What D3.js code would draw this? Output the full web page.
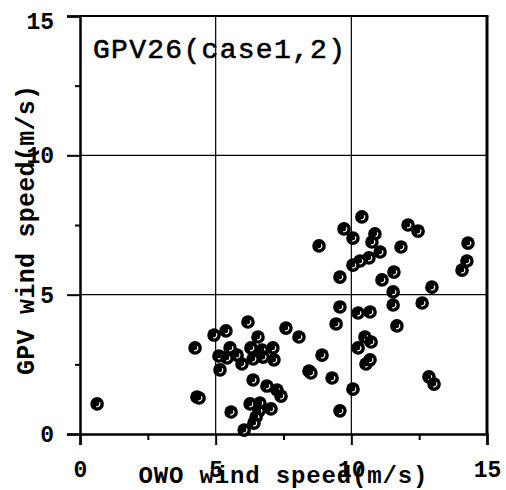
<!DOCTYPE html>
<html>
<head>
<meta charset="utf-8">
<script src="https://cdn.jsdelivr.net/npm/d3@7"></script>
<style>
  body { margin: 0; background: #fff; }
  svg { display: block; }
  text { font-family: "Liberation Mono", "DejaVu Sans Mono", monospace; fill: #000; }
</style>
</head>
<body>
<svg id="graph" width="506" height="490"></svg>
<script>
//OWO wind speed (x) of every point
let owoSpeed = [0.63, 4.31, 4.39, 4.24, 4.94, 5.38, 5.12, 5.42, 5.53, 5.79,
  5.97, 5.16, 6.19, 6.30, 6.38, 6.56, 6.71, 6.75, 7.11, 7.15,
  7.59, 8.07, 6.38, 6.89, 7.26, 7.41, 5.57, 6.27, 6.63, 7.04,
  6.60, 6.49, 6.41, 6.05, 8.44, 8.51, 8.92, 9.29, 9.44, 9.58,
  9.58, 9.58, 10.06, 10.25, 10.69, 10.25, 10.50, 10.73, 10.54, 10.69,
  8.81, 9.73, 10.06, 10.39, 10.87, 10.76, 11.06, 10.65, 10.32, 10.06,
  11.83, 12.09, 12.46, 14.30, 14.26, 14.08, 11.57, 11.13, 11.54, 12.97,
  12.61, 11.54, 11.68, 12.86, 13.05];
//GPV wind speed (y) of every point
let gpvSpeed = [1.08, 1.33, 1.29, 3.09, 3.55, 3.70, 2.80, 2.73, 3.09, 2.83,
  2.51, 2.30, 4.02, 3.09, 2.69, 3.48, 3.01, 2.76, 3.09, 2.66,
  3.80, 3.48, 1.94, 1.72, 1.58, 1.36, 0.79, 1.08, 1.11, 0.90,
  0.83, 0.61, 0.39, 0.14, 2.26, 2.19, 2.83, 2.01, 3.95, 4.56,
  5.63, 0.83, 1.61, 4.34, 4.38, 3.09, 3.48, 3.30, 2.51, 2.66,
  6.75, 7.36, 7.03, 7.79, 7.18, 6.89, 6.53, 6.32, 6.21, 6.06,
  6.71, 7.50, 7.28, 6.85, 6.21, 5.88, 5.81, 5.53, 5.10, 5.27,
  4.70, 4.63, 3.88, 2.05, 1.79];
//tick values
let majorTicks = [0, 5, 10, 15];
let minorTicks = [2.5, 7.5, 12.5];
let gridTicks = [5, 10];
//texts
let chartTitle = "GPV26(case1,2)";
let xTitle = "OWO wind speed(m/s)";
let yTitle = "GPV wind speed(m/s)";

let svg = d3.select("#graph");
let plot = { left: 80, right: 487, top: 16, bottom: 434 };

let x = d3.scaleLinear().domain([0, 15]).range([plot.left, plot.right]);
let y = d3.scaleLinear().domain([0, 15]).range([plot.bottom, plot.top]);

//grid lines at 5 and 10
svg.append("g").selectAll("line.vgrid")
  .data(gridTicks).enter().append("line")
  .attr("x1", d => x(d)).attr("x2", d => x(d))
  .attr("y1", plot.top).attr("y2", plot.bottom)
  .attr("stroke", "#000").attr("stroke-width", 1.2);
svg.append("g").selectAll("line.hgrid")
  .data(gridTicks).enter().append("line")
  .attr("x1", plot.left).attr("x2", plot.right)
  .attr("y1", d => y(d)).attr("y2", d => y(d))
  .attr("stroke", "#000").attr("stroke-width", 1.2);

//top and right frame
svg.append("line")
  .attr("x1", plot.left).attr("x2", plot.right + 1.5)
  .attr("y1", plot.top).attr("y2", plot.top)
  .attr("stroke", "#000").attr("stroke-width", 2);
svg.append("line")
  .attr("x1", plot.right).attr("x2", plot.right)
  .attr("y1", plot.top).attr("y2", plot.bottom)
  .attr("stroke", "#000").attr("stroke-width", 3);

//left axis, major and minor ticks
let yAxis = svg.append("g")
  .attr("transform", "translate(" + plot.left + ",0)")
  .call(d3.axisLeft(y).tickValues(majorTicks).tickSize(13).tickPadding(13).tickFormat(d3.format("d")));
svg.append("g")
  .attr("transform", "translate(" + plot.left + ",0)")
  .call(d3.axisLeft(y).tickValues(minorTicks).tickSize(5).tickFormat(""))
  .select(".domain").remove();

//bottom axis, major and minor ticks
let xAxis = svg.append("g")
  .attr("transform", "translate(0," + plot.bottom + ")")
  .call(d3.axisBottom(x).tickValues(majorTicks).tickSize(11).tickPadding(16).tickFormat(d3.format("d")));
svg.append("g")
  .attr("transform", "translate(0," + plot.bottom + ")")
  .call(d3.axisBottom(x).tickValues(minorTicks).tickSize(6).tickFormat(""))
  .select(".domain").remove();

//style axes
svg.selectAll(".domain").attr("stroke", "#000").attr("stroke-width", 2.5);
svg.selectAll(".tick line").attr("stroke", "#000").attr("stroke-width", 2);
svg.selectAll(".tick text")
  .attr("font-family", "Liberation Mono")
  .attr("font-size", 23).attr("font-weight", "bold").attr("fill", "#000");
yAxis.selectAll(".tick text").filter(d => d === 15).attr("dy", "0.55em");

//title inside the plot
svg.append("text")
  .attr("x", 93).attr("y", 58)
  .attr("font-size", 28)
  .attr("textLength", 252)
  .attr("stroke", "#000").attr("stroke-width", 0.6)
  .text(chartTitle);

//axis names
svg.append("text")
  .attr("x", 283).attr("y", 483)
  .attr("text-anchor", "middle")
  .attr("font-size", 24).attr("font-weight", "bold")
  .attr("textLength", 289)
  .text(xTitle);
svg.append("text")
  .attr("transform", "translate(34,230) rotate(-90)")
  .attr("text-anchor", "middle")
  .attr("font-size", 25).attr("font-weight", "bold")
  .attr("textLength", 290)
  .text(yTitle);

//points: black disc with a small white arc inside
let points = owoSpeed.map((v, i) => ({ owo: v, gpv: gpvSpeed[i] }));
let innerArc = d3.arc().innerRadius(2.2).outerRadius(3.4)
  .startAngle(0.3 * Math.PI).endAngle(1.1 * Math.PI);
let marks = svg.append("g").selectAll("g.pt")
  .data(points).enter().append("g")
  .attr("class", "pt")
  .attr("transform", d => "translate(" + x(d.owo) + "," + y(d.gpv) + ")");
marks.append("circle").attr("r", 6.8).attr("fill", "#000");
marks.append("path").attr("d", innerArc).attr("fill", "#fff");
</script>
</body>
</html>
